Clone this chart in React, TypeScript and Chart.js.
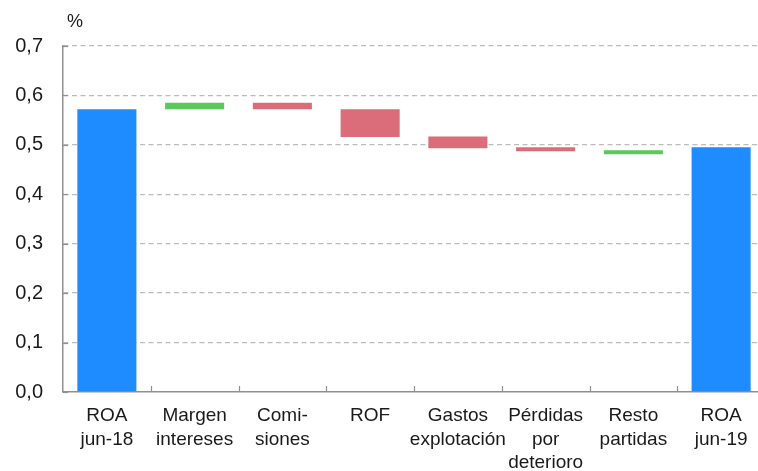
import React, { useEffect, useRef } from "react";
import { Chart, registerables } from "chart.js";

Chart.register(...registerables);

const categories: string[][] = [
  ["ROA", "jun-18"],
  ["Margen", "intereses"],
  ["Comi-", "siones"],
  ["ROF"],
  ["Gastos", "explotación"],
  ["Pérdidas", "por", "deterioro"],
  ["Resto", "partidas"],
  ["ROA", "jun-19"],
];
const barStart = [0, 0.572, 0.572, 0.516, 0.493, 0.487, 0.481, 0];
const barEnd = [0.572, 0.585, 0.585, 0.572, 0.517, 0.495, 0.489, 0.495];
const barKind = ["total", "up", "down", "down", "down", "down", "up", "total"];
const yTicks = [0, 0.1, 0.2, 0.3, 0.4, 0.5, 0.6, 0.7];
const unitLabel = "%";

const COLORS: Record<string, string> = {
  total: "#1e8cff",
  up: "#5ac85a",
  down: "#db6c79",
};
const FONT = "'Liberation Sans', Arial, Helvetica, sans-serif";

export default function App() {
  const ref = useRef<HTMLCanvasElement | null>(null);
  useEffect(() => {
    if (!ref.current) return;
    const extras = {
      id: "extras",
      afterDraw(chart: any) {
        const { ctx, chartArea, scales } = chart;
        ctx.save();
        ctx.strokeStyle = "#909090";
        ctx.lineWidth = 1.2;
        yTicks.forEach((v) => {
          const y = Math.round(scales.y.getPixelForValue(v)) + 0.5;
          ctx.beginPath();
          ctx.moveTo(chartArea.left, y);
          ctx.lineTo(chartArea.left + 5, y);
          ctx.stroke();
        });
        const n = categories.length;
        const w = (chartArea.right - chartArea.left) / n;
        for (let i = 1; i < n; i++) {
          const x = Math.round(chartArea.left + i * w) + 0.5;
          ctx.beginPath();
          ctx.moveTo(x, chartArea.bottom);
          ctx.lineTo(x, chartArea.bottom - 6);
          ctx.stroke();
        }
        ctx.fillStyle = "#1a1a1a";
        ctx.font = `18px ${FONT}`;
        ctx.textAlign = "left";
        ctx.textBaseline = "alphabetic";
        ctx.fillText(unitLabel, 67, 27);
        ctx.restore();
      },
    };
    const chart = new Chart(ref.current, {
      type: "bar",
      data: {
        labels: categories,
        datasets: [
          {
            data: barStart.map((s, i) => [s, barEnd[i]]) as any,
            backgroundColor: barKind.map((k) => COLORS[k]),
            borderWidth: 0,
            categoryPercentage: 1,
            barPercentage: 0.673,
          },
        ],
      },
      options: {
        animation: false,
        responsive: false,
        devicePixelRatio: 1,
        layout: { padding: { top: 46, left: 0, right: 0, bottom: 0 } },
        plugins: {
          legend: { display: false },
          tooltip: { enabled: false },
        },
        scales: {
          x: {
            grid: { display: false, drawTicks: false },
            border: { display: true, color: "#909090", width: 1.5 },
            ticks: {
              color: "#1a1a1a",
              font: { family: FONT, size: 19, lineHeight: 1.24 },
              padding: 12,
              maxRotation: 0,
              autoSkip: false,
            },
            afterFit(scale: any) {
              scale.height = 79;
            },
          },
          y: {
            min: 0,
            max: 0.7,
            afterBuildTicks(scale: any) {
              scale.ticks = yTicks.map((v) => ({ value: v }));
            },
            grid: {
              drawTicks: false,
              color: (c: any) => (c.tick && c.tick.value === 0 ? "rgba(0,0,0,0)" : "#bcbcbc"),
              lineWidth: 1.3,
            },
            border: { display: true, color: "#909090", width: 1.5, dash: [5, 3.5] },
            ticks: {
              color: "#1a1a1a",
              font: { family: FONT, size: 20 },
              padding: 20,
              callback: (v: any) => Number(v).toFixed(1).replace(".", ","),
            },
            afterFit(scale: any) {
              scale.width = 63;
            },
          },
        },
      },
      plugins: [extras],
    } as any);
    return () => chart.destroy();
  }, []);
  return (
    <div
      style={{
        position: "fixed",
        left: 0,
        top: 0,
        width: 758,
        height: 471,
        overflow: "hidden",
        background: "#fff",
      }}
    >
      <canvas ref={ref} width={765} height={471} style={{ display: "block" }} />
    </div>
  );
}
